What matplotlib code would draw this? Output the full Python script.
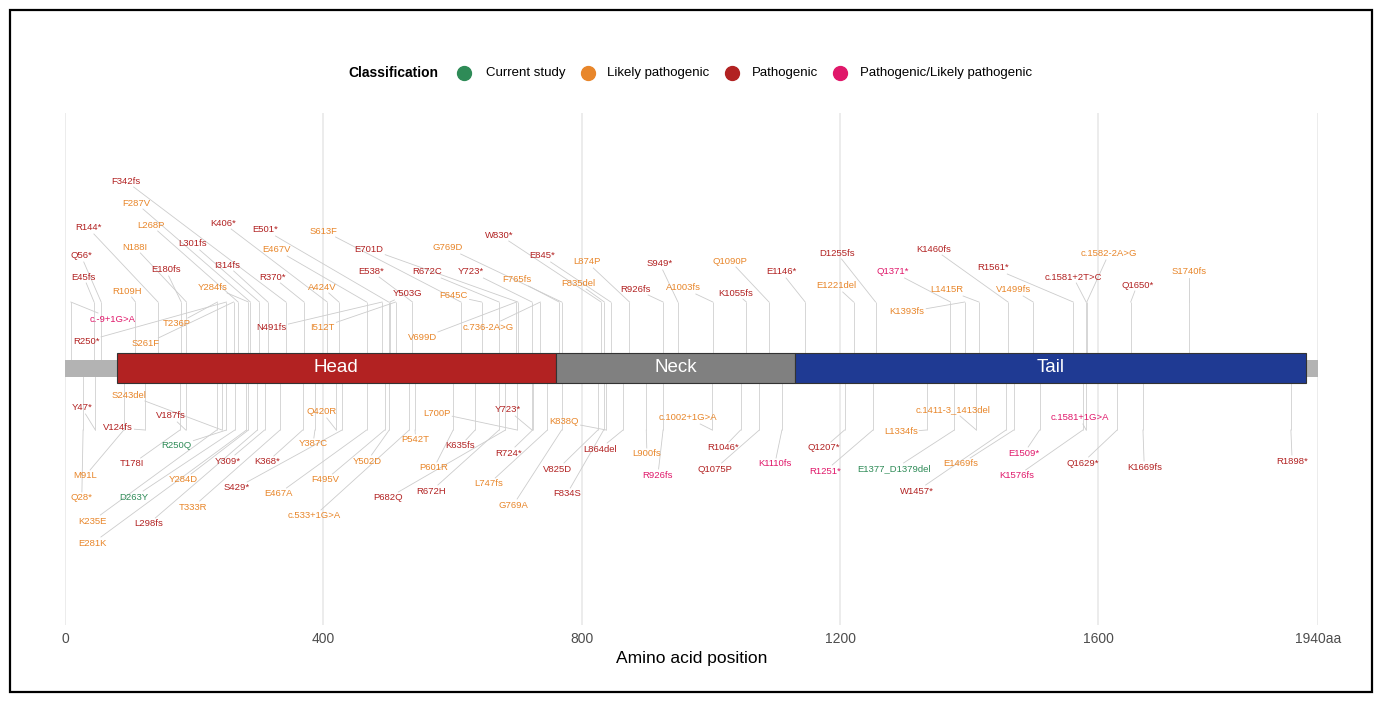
# coding: utf-8
# Lollipop-style variant map along the protein (Head / Neck / Tail)

import numpy as np
import matplotlib
matplotlib.use('Agg')
import matplotlib.pyplot as plt
from matplotlib.patches import Rectangle
from matplotlib.lines import Line2D

plt.rcParams['font.family'] = ['Liberation Sans', 'DejaVu Sans']

# ---- data ----
protein_length = 1940
domain_names = ['Head', 'Neck', 'Tail']
domain_start = [80, 760, 1130]
domain_end = [760, 1130, 1921]
domain_colors = ['#B22222', '#808080', '#1F3A93']

class_codes = ['C', 'L', 'P', 'M']
class_names = ['Current study', 'Likely pathogenic', 'Pathogenic', 'Pathogenic/Likely pathogenic']
class_colors = ['#2E8B57', '#E8862A', '#B22222', '#E0186A']

top_labels = ['F342fs', 'F287V', 'R144*', 'L268P', 'K406*', 'E501*', 'S613F', 'N188I', 'L301fs', 'E467V',
              'Q56*', 'E180fs', 'I314fs', 'R370*', 'E45fs', 'R109H', 'Y284fs', 'A424V', 'c.-9+1G>A', 'T236P',
              'N491fs', 'I512T', 'R250*', 'S261F', 'E701D', 'E538*', 'R672C', 'Y723*', 'G769D', 'W830*',
              'E845*', 'F765fs', 'Y503G', 'F645C', 'V699D', 'c.736-2A>G', 'F835del', 'L874P', 'S949*', 'R926fs',
              'A1003fs', 'Q1090P', 'K1055fs', 'E1146*', 'D1255fs', 'E1221del', 'Q1371*', 'K1393fs', 'L1415R', 'K1460fs',
              'R1561*', 'V1499fs', 'c.1581+2T>C', 'c.1582-2A>G', 'Q1650*', 'S1740fs']
top_pos = [342, 287, 144, 268, 406, 501, 613, 188, 301, 467,
           56, 180, 314, 370, 45, 109, 284, 424, 9, 236,
           491, 512, 250, 261, 701, 538, 672, 723, 769, 830,
           845, 765, 503, 645, 699, 736, 835, 874, 949, 926,
           1003, 1090, 1055, 1146, 1255, 1221, 1371, 1393, 1415, 1460,
           1561, 1499, 1581, 1582, 1650, 1740]
top_class = ('P L P L P P L L P L '
             'P P P P P L L L M L '
             'P L P L P P P P L P '
             'P L P L L L L L P P '
             'L L P P P L M L L P '
             'P L P L P L').split()

bot_labels = ['S243del', 'Y47*', 'V187fs', 'V124fs', 'R250Q', 'Q420R', 'Y387C', 'T178I', 'Y309*', 'K368*',
              'Y502D', 'M91L', 'Y284D', 'F495V', 'S429*', 'E467A', 'Q28*', 'D263Y', 'T333R', 'c.533+1G>A',
              'K235E', 'L298fs', 'E281K', 'P682Q', 'L700P', 'Y723*', 'K838Q', 'P542T', 'K635fs', 'R724*',
              'L864del', 'V825D', 'P601R', 'R672H', 'L747fs', 'G769A', 'F834S', 'L900fs', 'R926fs', 'c.1002+1G>A',
              'R1046*', 'Q1075P', 'K1110fs', 'Q1207*', 'R1251*', 'L1334fs', 'c.1411-3_1413del', 'E1377_D1379del', 'E1469fs', 'W1457*',
              'c.1581+1G>A', 'E1509*', 'K1576fs', 'Q1629*', 'K1669fs', 'R1898*']
bot_pos = [243, 47, 187, 124, 250, 420, 387, 178, 309, 368,
           502, 91, 284, 495, 429, 467, 28, 263, 333, 533,
           235, 298, 281, 682, 700, 723, 838, 542, 635, 724,
           864, 825, 601, 672, 747, 769, 834, 900, 926, 1002,
           1046, 1075, 1110, 1207, 1251, 1334, 1411, 1377, 1469, 1457,
           1581, 1509, 1576, 1629, 1669, 1898]
bot_class = ('L P P P C L L P P P '
             'L L L L P L L C L L '
             'L P L P L P L L P P '
             'P P L P L L P L M L '
             'P P M P M L L C L P '
             'M M M P P P').split()

tick_pos = [0, 400, 800, 1200, 1600, 1940]
tick_text = ['0', '400', '800', '1200', '1600', '1940aa']

# ---- label layout (repelled positions: aa along x, height above/below bar) ----
top_lab_x = [94, 110, 36, 133, 245, 310, 401, 108, 198, 328,
             25, 156, 251, 322, 29, 96, 229, 398, 74, 173,
             320, 399, 33, 125, 471, 474, 560, 629, 593, 673,
             738, 700, 531, 602, 553, 655, 794, 808, 921, 883,
             957, 1030, 1039, 1109, 1195, 1194, 1282, 1304, 1366, 1345,
             1437, 1468, 1561, 1616, 1660, 1740]
top_lab_y = [187, 165, 140, 143, 145, 138, 137, 121, 124, 118,
             112, 98, 103, 91, 91, 77, 81, 81, 49, 44,
             40, 41, 27, 24, 119, 97, 96, 96, 120, 133,
             112, 88, 74, 72, 30, 41, 85, 106, 104, 79,
             80, 107, 75, 96, 115, 82, 96, 56, 78, 119,
             100, 78, 91, 114, 83, 96]
bot_lab_x = [99, 26, 164, 82, 173, 398, 384, 104, 252, 313,
             468, 31, 183, 403, 265, 330, 26, 107, 198, 386,
             42, 129, 43, 500, 576, 686, 773, 543, 612, 687,
             828, 763, 571, 567, 656, 694, 777, 901, 918, 965,
             1019, 1006, 1099, 1175, 1177, 1294, 1375, 1284, 1387, 1319,
             1571, 1485, 1474, 1575, 1671, 1900]
bot_lab_y = [-27, -40, -48, -60, -78, -44, -76, -96, -93, -94,
             -93, -108, -112, -112, -120, -126, -130, -129, -139, -148,
             -153, -156, -175, -130, -45, -42, -54, -72, -78, -85,
             -81, -101, -100, -123, -116, -137, -126, -86, -107, -50,
             -80, -101, -96, -80, -103, -64, -42, -101, -96, -123,
             -50, -85, -108, -95, -99, -93]

stem_top = 66
stem_bot = -62
col = dict(zip(class_codes, class_colors))


def edge_point(bb, p, pad=1.5):
    cx, cy = (bb.x0 + bb.x1) / 2, (bb.y0 + bb.y1) / 2
    hw, hh = bb.width / 2 + pad, bb.height / 2 + pad
    dx, dy = p[0] - cx, p[1] - cy
    if abs(dx) <= hw and abs(dy) <= hh:
        return None
    t = min(hw / abs(dx) if dx else np.inf, hh / abs(dy) if dy else np.inf)
    return cx + t * dx, cy + t * dy


W, H = 1383, 703
fig = plt.figure(figsize=(W / 100, H / 100), dpi=100)
ax = fig.add_axes([65 / W, 1 - 625 / H, (1318 - 65) / W, (625 - 113) / H])
ax.set_xlim(0, protein_length)
ax.set_ylim(-257, 255)
for s in ax.spines.values():
    s.set_visible(False)
ax.set_xticks(tick_pos)
ax.set_xticklabels(tick_text)
ax.set_yticks([])
ax.tick_params(axis='x', length=0, pad=5, labelsize=10, labelcolor='#4D4D4D')
ax.grid(axis='x', color='#EBEBEB', lw=1.3)
ax.set_axisbelow(True)
ax.set_xlabel('Amino acid position', fontsize=12.5, labelpad=4)

# stems
ax.vlines(top_pos, 0, stem_top, color='#D0D0D0', lw=0.6, zorder=2)
ax.vlines(bot_pos, stem_bot, 0, color='#D0D0D0', lw=0.6, zorder=2)

# protein backbone + domains
ax.add_patch(Rectangle((0, -9), protein_length, 17, fc='#B3B3B3', ec='none', zorder=3))
for name, s, e, c in zip(domain_names, domain_start, domain_end, domain_colors):
    ax.add_patch(Rectangle((s, -15), e - s, 30, fc=c, ec='#333333', lw=0.8, zorder=4))
    ax.text((s + e) / 2, 0, name, color='white', fontsize=13.5, ha='center', va='center', zorder=5)

# labels
texts = []
for labs, pos, cls, lx, ly, sy in [(top_labels, top_pos, top_class, top_lab_x, top_lab_y, stem_top),
                                   (bot_labels, bot_pos, bot_class, bot_lab_x, bot_lab_y, stem_bot)]:
    for lab, p, c, x, y in zip(labs, pos, cls, lx, ly):
        t = ax.text(x, y, lab, color=col[c], fontsize=6.8, ha='center', va='center', zorder=5)
        texts.append((t, p, sy))

fig.canvas.draw()
r = fig.canvas.get_renderer()
inv = ax.transData.inverted()
for t, p, sy in texts:
    bb = t.get_window_extent(r)
    pd_ = ax.transData.transform((p, sy))
    e = edge_point(bb, pd_)
    if e is None:
        continue
    ex, ey = inv.transform(e)
    ax.plot([p, ex], [sy, ey], color='#CCCCCC', lw=0.6, zorder=1.5)

# legend
ly = 1 - 73 / H
fig.text(348 / W, ly, 'Classification', fontsize=10, weight='bold', va='center')
dot_x = [464, 588, 732, 840]
txt_x = [486, 607, 752, 860]
for dx, tx, name, c in zip(dot_x, txt_x, class_names, class_colors):
    fig.add_artist(Line2D([dx / W], [ly], marker='o', ms=10, color=c, ls='none', transform=fig.transFigure))
    fig.text(tx / W, ly, name, fontsize=9.5, va='center')

# outer frame
fig.add_artist(Rectangle((10 / W, 1 - 692 / H), (1372 - 10) / W, (692 - 10) / H, fill=False,
                         ec='black', lw=1.6, transform=fig.transFigure))

fig.savefig('out.png', dpi=100)
